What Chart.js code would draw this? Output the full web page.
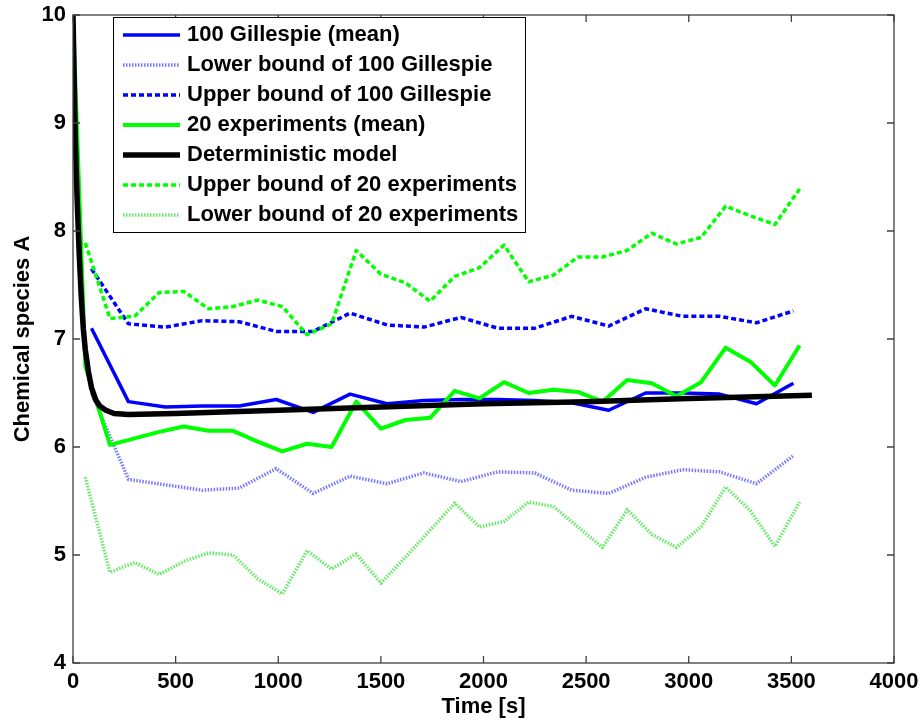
<!DOCTYPE html>
<html>
<head>
<meta charset="utf-8">
<script src="https://cdn.jsdelivr.net/npm/chart.js@4.4.1/dist/chart.umd.min.js"></script>
<style>
  body { margin: 0; background: #fff; }
</style>
</head>
<body>
<canvas id="chart" width="923" height="720"></canvas>
<script>
const FONT = '"Liberation Sans", Arial, Helvetica, sans-serif'

// Gillespie runs, sampled every 180 s
const gillTime = [90, 270, 450, 630, 810, 990, 1170, 1350, 1530, 1710, 1890, 2070, 2250, 2430, 2610, 2790, 2970, 3150, 3330, 3510]
const gillMean = [7.10, 6.42, 6.37, 6.38, 6.38, 6.44, 6.32, 6.49, 6.40, 6.43, 6.44, 6.44, 6.43, 6.41, 6.34, 6.50, 6.50, 6.49, 6.40, 6.59]
const gillLower = [6.50, 5.70, 5.65, 5.60, 5.62, 5.80, 5.57, 5.73, 5.66, 5.76, 5.68, 5.77, 5.76, 5.60, 5.57, 5.72, 5.79, 5.77, 5.66, 5.92]
const gillUpper = [7.65, 7.14, 7.11, 7.17, 7.16, 7.07, 7.07, 7.24, 7.13, 7.11, 7.20, 7.10, 7.10, 7.21, 7.12, 7.28, 7.21, 7.21, 7.15, 7.26]

// 20 experiments, sampled every 120 s (bounds start at 60 s)
const expTime = [0, 60, 180, 300, 420, 540, 660, 780, 900, 1020, 1140, 1260, 1380, 1500, 1620, 1740, 1860, 1980, 2100, 2220, 2340, 2460, 2580, 2700, 2820, 2940, 3060, 3180, 3300, 3420, 3540]
const expMean = [10, 6.75, 6.02, 6.08, 6.14, 6.19, 6.15, 6.15, 6.05, 5.96, 6.03, 6.00, 6.42, 6.17, 6.25, 6.27, 6.52, 6.45, 6.60, 6.50, 6.53, 6.51, 6.42, 6.62, 6.59, 6.47, 6.60, 6.92, 6.79, 6.57, 6.94]
const expUpper = [null, 7.89, 7.19, 7.21, 7.43, 7.44, 7.28, 7.30, 7.36, 7.30, 7.04, 7.14, 7.82, 7.60, 7.52, 7.35, 7.58, 7.66, 7.87, 7.53, 7.59, 7.76, 7.76, 7.82, 7.98, 7.88, 7.94, 8.23, 8.14, 8.06, 8.39]
const expLower = [null, 5.72, 4.84, 4.93, 4.82, 4.94, 5.02, 5.00, 4.78, 4.64, 5.04, 4.87, 5.01, 4.74, 4.98, 5.23, 5.48, 5.26, 5.31, 5.49, 5.45, 5.26, 5.07, 5.42, 5.19, 5.07, 5.26, 5.63, 5.41, 5.08, 5.49]

// deterministic model
const detTime = [0, 10, 20, 30, 40, 50, 60, 75, 90, 110, 130, 160, 200, 270, 500, 1000, 1500, 2000, 2500, 3000, 3600]
const detVal = [10, 8.95, 8.3, 7.8, 7.4, 7.1, 6.9, 6.7, 6.55, 6.44, 6.38, 6.34, 6.31, 6.30, 6.31, 6.34, 6.37, 6.40, 6.42, 6.45, 6.48]

const xTicks = [0, 500, 1000, 1500, 2000, 2500, 3000, 3500, 4000]
const yTicks = [4, 5, 6, 7, 8, 9, 10]

const pts = (xs, ys) => xs.map((x, i) => ({ x, y: ys[i] }))

const series = [
  { label: '100 Gillespie (mean)', data: pts(gillTime, gillMean), borderColor: '#0000ff', borderWidth: 3.5 },
  { label: 'Lower bound of 100 Gillespie', data: pts(gillTime, gillLower), borderColor: 'rgba(30,30,255,0.6)', borderWidth: 3.5, borderDash: [1.5, 1.5] },
  { label: 'Upper bound of 100 Gillespie', data: pts(gillTime, gillUpper), borderColor: '#0000ff', borderWidth: 3.5, borderDash: [5, 3] },
  { label: '20 experiments (mean)', data: pts(expTime, expMean), borderColor: '#00ff00', borderWidth: 4 },
  { label: 'Deterministic model', data: pts(detTime, detVal), borderColor: '#000000', borderWidth: 5.5 },
  { label: 'Upper bound of 20 experiments', data: pts(expTime, expUpper), borderColor: '#00ff00', borderWidth: 3.5, borderDash: [5, 3] },
  { label: 'Lower bound of 20 experiments', data: pts(expTime, expLower), borderColor: 'rgba(0,220,0,0.6)', borderWidth: 3.5, borderDash: [1.5, 1.5] },
]

// later series on top, like the original plot
series.forEach((s, i) => {
  s.order = series.length - i
  s.pointRadius = 0
  s.tension = 0
  s.fill = false
  s.borderJoinStyle = 'round'
})

// box with inward ticks + legend in the upper left
const frameAndLegend = {
  id: 'frameAndLegend',
  afterDatasetsDraw(chart) {
    const { ctx, chartArea: a, scales: { x, y } } = chart
    ctx.save()
    ctx.strokeStyle = '#404040'
    ctx.lineWidth = 1.3
    ctx.strokeRect(a.left, a.top, a.right - a.left, a.bottom - a.top)
    ctx.beginPath()
    xTicks.forEach(v => {
      const px = x.getPixelForValue(v)
      ctx.moveTo(px, a.bottom); ctx.lineTo(px, a.bottom - 7)
      ctx.moveTo(px, a.top); ctx.lineTo(px, a.top + 7)
    })
    yTicks.forEach(v => {
      const py = y.getPixelForValue(v)
      ctx.moveTo(a.left, py); ctx.lineTo(a.left + 7, py)
      ctx.moveTo(a.right, py); ctx.lineTo(a.right - 7, py)
    })
    ctx.stroke()

    const bx = a.left + 40, by = a.top + 2, bw = 412, bh = 215
    ctx.fillStyle = '#fff'
    ctx.fillRect(bx, by, bw, bh)
    ctx.strokeStyle = '#000'
    ctx.lineWidth = 1
    ctx.strokeRect(bx + 0.5, by + 0.5, bw, bh)
    ctx.font = 'bold 22px ' + FONT
    ctx.textBaseline = 'middle'
    chart.data.datasets.forEach((ds, i) => {
      const ly = by + 18 + i * 30
      ctx.beginPath()
      ctx.strokeStyle = ds.borderColor
      ctx.lineWidth = ds.borderWidth
      ctx.setLineDash(ds.borderDash || [])
      ctx.moveTo(bx + 10, ly)
      ctx.lineTo(bx + 67, ly)
      ctx.stroke()
      ctx.setLineDash([])
      ctx.fillStyle = '#000'
      ctx.fillText(ds.label, bx + 74, ly)
    })
    ctx.restore()
  }
}

const tickFont = { family: FONT, size: 22, weight: 'bold' }

new Chart(document.getElementById('chart'), {
  type: 'line',
  data: { datasets: series },
  options: {
    responsive: false,
    animation: false,
    layout: { padding: { top: 15, right: 29, left: 0, bottom: 0 } },
    plugins: { legend: { display: false }, tooltip: { enabled: false } },
    scales: {
      x: {
        type: 'linear',
        min: 0,
        max: 4000,
        afterFit: s => { s.height = 57; s.paddingLeft = 0; s.paddingRight = 0 },
        afterBuildTicks: s => { s.ticks = xTicks.map(value => ({ value })) },
        grid: { display: false, drawTicks: false },
        border: { display: false },
        ticks: { color: '#000', padding: 6, font: tickFont, callback: v => String(v) },
        title: { display: true, text: 'Time [s]', color: '#000', padding: { top: 0, bottom: 0 }, font: tickFont }
      },
      y: {
        min: 4,
        max: 10,
        afterFit: s => { s.width = 73; s.paddingTop = 0; s.paddingBottom = 0 },
        afterBuildTicks: s => { s.ticks = yTicks.map(value => ({ value })) },
        grid: { display: false, drawTicks: false },
        border: { display: false },
        ticks: { color: '#000', padding: 7, font: tickFont, callback: v => String(v) },
        title: { display: true, text: 'Chemical species A', color: '#000', padding: { top: 10, bottom: 0 }, font: tickFont }
      }
    }
  },
  plugins: [frameAndLegend]
})
</script>
</body>
</html>
